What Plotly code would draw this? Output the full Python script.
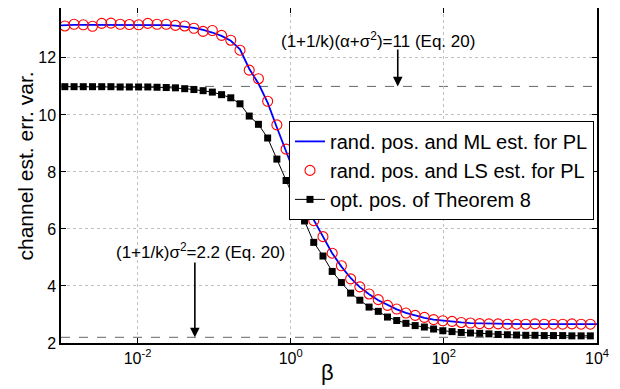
import math
import plotly.graph_objects as go

# beta values (log-spaced sample points of the simulated curves)
beta = [0.001122, 0.001481, 0.001954, 0.002578, 0.003401, 0.004487, 0.005921, 0.007812,
        0.01031, 0.01360, 0.01795, 0.02368, 0.03125, 0.04123, 0.05440, 0.07178, 0.09471,
        0.1250, 0.1649, 0.2176, 0.2871, 0.3788, 0.4998, 0.6595, 0.8702, 1.148, 1.515,
        1.999, 2.638, 3.480, 4.592, 6.059, 7.995, 10.55, 13.92, 18.37, 24.23, 31.98,
        42.19, 55.67, 73.45, 96.92, 127.9, 168.7, 222.6, 293.8, 387.6, 511.5, 674.9,
        890.5, 1175, 1550, 2046, 2699, 3562, 4699, 6201, 8182]

# ML estimator (blue line) spans the full beta range
beta_ml = [0.001] + beta + [10000]
ml_values = [13.14,
             13.15, 13.16, 13.16, 13.16, 13.17, 13.17, 13.17, 13.17, 13.17, 13.17,
             13.16, 13.15, 13.13, 13.10, 13.05, 12.98, 12.89, 12.77, 12.60, 12.30,
             11.62, 11.10, 10.43, 9.56, 8.70, 7.86, 7.05, 6.32, 5.72, 5.15,
             4.68, 4.28, 3.96, 3.71, 3.50, 3.33, 3.18, 3.06, 2.96, 2.88,
             2.82, 2.78, 2.75, 2.72, 2.70, 2.69, 2.68, 2.67, 2.67, 2.67,
             2.66, 2.66, 2.66, 2.66, 2.66, 2.66, 2.66, 2.66,
             2.66]

ls_values = [13.12, 13.18, 13.16, 13.11, 13.21, 13.22, 13.18, 13.17, 13.16, 13.21,
             13.18, 13.18, 13.14, 13.12, 13.04, 12.93, 12.96, 12.79, 12.62, 12.27,
             11.57, 11.27, 10.48, 9.65, 8.80, 7.98, 7.19, 6.29, 5.73, 5.15,
             4.71, 4.25, 3.97, 3.72, 3.52, 3.32, 3.19, 3.05, 2.97, 2.90,
             2.82, 2.78, 2.76, 2.72, 2.70, 2.68, 2.67, 2.67, 2.66, 2.66,
             2.66, 2.67, 2.66, 2.66, 2.66, 2.67, 2.66, 2.66]

opt_values = [10.99, 10.99, 10.99, 10.99, 10.99, 10.99, 10.98, 10.98, 10.98, 10.98,
              10.97, 10.96, 10.95, 10.92, 10.89, 10.85, 10.80, 10.71, 10.60, 10.39,
              9.96, 9.67, 9.19, 8.45, 7.70, 6.96, 6.28, 5.53, 5.05, 4.51,
              4.12, 3.75, 3.50, 3.26, 3.11, 2.91, 2.79, 2.69, 2.61, 2.56,
              2.49, 2.43, 2.40, 2.37, 2.35, 2.34, 2.32, 2.30, 2.29, 2.28,
              2.27, 2.27, 2.26, 2.26, 2.26, 2.25, 2.25, 2.25]

series_names = ["rand. pos. and ML est. for PL",
                "rand. pos. and LS est. for PL",
                "opt. pos. of Theorem 8"]

# analytical bounds (Eq. 20)
bound_values = [11, 2.2]
bound_labels = ["(1+1/k)(α+σ<sup>2</sup>)=11 (Eq. 20)",
                "(1+1/k)σ<sup>2</sup>=2.2 (Eq. 20)"]
arrow_beta = [25, 0.056]
arrow_tail = [12.35, 4.88]
label_beta = [14.0, 0.066]
label_y = [12.62, 5.22]

x_tickvals = [0.01, 1, 100, 10000]
x_ticktext = ["10<sup>-2</sup>", "10<sup>0</sup>", "10<sup>2</sup>", "10<sup>4</sup>"]
y_tickvals = [2, 4, 6, 8, 10, 12]

FONT = "Liberation Sans, Arial, Helvetica, sans-serif"

fig = go.Figure()
fig.add_trace(go.Scatter(x=beta_ml, y=ml_values, mode="lines", name=series_names[0],
                         line=dict(color="#0000ff", width=1.8)))
fig.add_trace(go.Scatter(x=beta, y=ls_values, mode="markers", name=series_names[1],
                         marker=dict(symbol="circle-open", size=10, color="#ff0000",
                                     line=dict(width=1.1, color="#ff0000"))))
fig.add_trace(go.Scatter(x=beta, y=opt_values, mode="lines+markers", name=series_names[2],
                         line=dict(color="#000000", width=1),
                         marker=dict(symbol="square", size=7, color="#000000")))

for v in bound_values:
    fig.add_shape(type="line", xref="paper", x0=0, x1=1, yref="y", y0=v, y1=v,
                  line=dict(color="#666666", width=1, dash="dash"), layer="below")

for i in range(2):
    fig.add_annotation(x=math.log10(arrow_beta[i]), y=bound_values[i],
                       ax=math.log10(arrow_beta[i]), ay=arrow_tail[i],
                       axref="x", ayref="y", xref="x", yref="y", text="",
                       showarrow=True, arrowhead=2, arrowsize=1.2, arrowwidth=1.6,
                       arrowcolor="#000000")
    fig.add_annotation(x=math.log10(label_beta[i]), y=label_y[i], xref="x", yref="y",
                       text=bound_labels[i], showarrow=False,
                       font=dict(family=FONT, size=17, color="#000000"))

# axis titles
fig.add_annotation(text="β", xref="paper", yref="paper", x=0.498, y=-0.089,
                   xanchor="center", yanchor="middle", showarrow=False,
                   font=dict(family=FONT, size=22, color="#000000"))
fig.add_annotation(text="channel est. err. var.", xref="paper", yref="paper",
                   x=-0.067, y=0.527, xanchor="center", yanchor="middle",
                   textangle=-90, showarrow=False,
                   font=dict(family=FONT, size=21, color="#000000"))

# the page body adds an 8px margin, so the figure is 612x381 inside the 620x389 window
fig.update_layout(
    width=612, height=381,
    margin=dict(l=53, r=23, t=0, b=46),
    paper_bgcolor="white", plot_bgcolor="white",
    font=dict(family=FONT, color="#000000"),
    showlegend=True,
    legend=dict(x=0.9944, xanchor="right", y=0.663, yanchor="top",
                bgcolor="white", bordercolor="#000000", borderwidth=1,
                font=dict(family=FONT, size=20, color="#000000"),
                tracegroupgap=0, itemwidth=30),
)
fig.update_xaxes(type="log", range=[-3, 4], tickvals=x_tickvals, ticktext=x_ticktext,
                 ticks="inside", ticklen=5, tickcolor="#000000", automargin=False,
                 showline=True, linecolor="#000000", linewidth=1.5, mirror="ticks",
                 showgrid=True, gridcolor="#c0c0c0", griddash="dot", gridwidth=1,
                 zeroline=False, tickfont=dict(family=FONT, size=16))
fig.update_yaxes(range=[2, 13.75], tickvals=y_tickvals, automargin=False,
                 ticks="inside", ticklen=5, tickcolor="#000000",
                 showline=True, linecolor="#000000", linewidth=1.5, mirror="ticks",
                 showgrid=True, gridcolor="#c0c0c0", griddash="dot", gridwidth=1,
                 zeroline=False, tickfont=dict(family=FONT, size=16))

fig.write_html("out.html")
